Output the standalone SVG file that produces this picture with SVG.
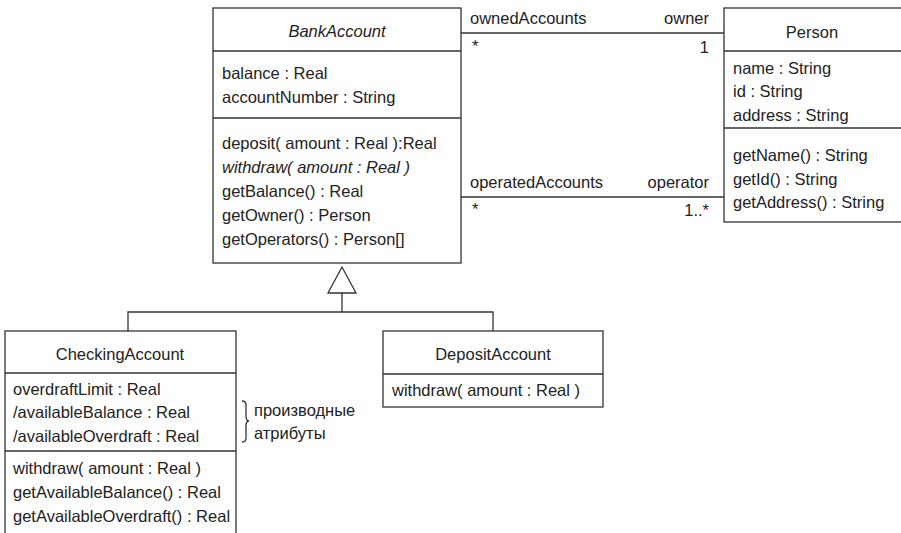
<svg xmlns="http://www.w3.org/2000/svg" width="901" height="533" viewBox="0 0 901 533">
<style>
.box{fill:#fff;stroke:#333;stroke-width:1.3}
.ln{fill:none;stroke:#333;stroke-width:1.3}
text{font-family:"Liberation Sans",Arial,sans-serif;font-size:16.5px;fill:#222}
.c{text-anchor:middle}
.r{text-anchor:end}
.i{font-style:italic}
</style>
<rect width="901" height="533" fill="#fff"/>
<g id="connectors">
<line class="ln" x1="461" y1="33" x2="724" y2="33"/>
<line class="ln" x1="461" y1="197" x2="724" y2="197"/>
<polyline class="ln" points="128,331 128,312 493,312 493,331"/>
<line class="ln" x1="342" y1="293" x2="342" y2="312"/>
<polygon class="box" points="342,267 328,293 356,293"/>
<text x="470" y="24">ownedAccounts</text>
<text class="r" x="709" y="24">owner</text>
<text x="472" y="52">*</text>
<text class="r" x="709" y="53">1</text>
<text x="470" y="188">operatedAccounts</text>
<text class="r" x="709" y="188">operator</text>
<text x="472" y="215">*</text>
<text class="r" x="709" y="216">1..*</text>
</g>
<g id="BankAccount">
<rect class="box" x="213" y="8" width="248" height="255"/>
<line class="ln" x1="213" y1="51" x2="461" y2="51"/>
<line class="ln" x1="213" y1="118" x2="461" y2="118"/>
<text class="c i" x="337" y="37">BankAccount</text>
<text x="222" y="79">balance : Real</text>
<text x="222" y="103">accountNumber : String</text>
<text x="222" y="149">deposit( amount : Real ):Real</text>
<text class="i" x="222" y="173">withdraw( amount : Real )</text>
<text x="222" y="197">getBalance() : Real</text>
<text x="222" y="221">getOwner() : Person</text>
<text x="222" y="245">getOperators() : Person[]</text>
</g>
<g id="Person">
<rect class="box" x="724" y="8" width="190" height="214"/>
<line class="ln" x1="724" y1="51" x2="914" y2="51"/>
<line class="ln" x1="724" y1="128" x2="914" y2="128"/>
<text class="c" x="812" y="38">Person</text>
<text x="733" y="74">name : String</text>
<text x="733" y="97">id : String</text>
<text x="733" y="121">address : String</text>
<text x="733" y="161">getName() : String</text>
<text x="733" y="185">getId() : String</text>
<text x="733" y="208">getAddress() : String</text>
</g>
<g id="CheckingAccount">
<rect class="box" x="5" y="331" width="231" height="215"/>
<line class="ln" x1="5" y1="373" x2="236" y2="373"/>
<line class="ln" x1="5" y1="451" x2="236" y2="451"/>
<text class="c" x="120" y="360">CheckingAccount</text>
<text x="13" y="395">overdraftLimit : Real</text>
<text x="13" y="418">/availableBalance : Real</text>
<text x="13" y="442">/availableOverdraft : Real</text>
<text x="13" y="474">withdraw( amount : Real )</text>
<text x="13" y="498">getAvailableBalance() : Real</text>
<text x="13" y="522">getAvailableOverdraft() : Real</text>
</g>
<g id="DepositAccount">
<rect class="box" x="383" y="331" width="220" height="76"/>
<line class="ln" x1="383" y1="374" x2="603" y2="374"/>
<text class="c" x="493" y="360">DepositAccount</text>
<text x="392" y="396">withdraw( amount : Real )</text>
</g>
<g id="note">
<path class="ln" d="M242,401 q4,0 4,4 v11 q0,5 3,5 q-3,0 -3,5 v12 q0,4 -4,4"/>
<text x="254" y="416">производные</text>
<text x="254" y="439">атрибуты</text>
</g>
</svg>
